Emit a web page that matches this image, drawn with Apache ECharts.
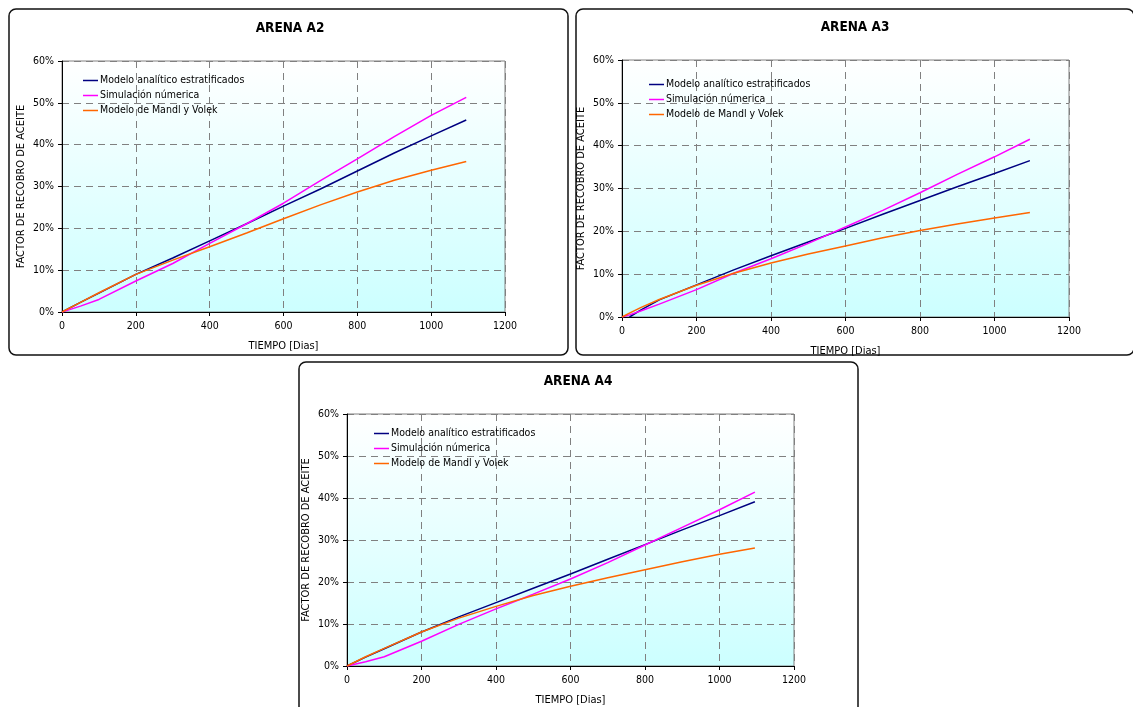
<!DOCTYPE html>
<html>
<head>
<meta charset="utf-8">
<script src="https://cdn.jsdelivr.net/npm/echarts@6/dist/echarts.min.js"></script>
<style>
  html, body { margin: 0; padding: 0; background: #fff; }
  #chart { width: 1133px; height: 707px; }
</style>
</head>
<body>
<div id="chart"></div>
<script>
// Recovery factor (%) versus time (days) for three sands
const dias = [0, 50, 100, 200, 300, 400, 500, 600, 700, 800, 900, 1000, 1095];

const a2Analitico = [0, 2.3, 4.5, 9.0, 12.9, 17.0, 21.1, 25.3, 29.4, 33.7, 38.0, 42.1, 45.9];
const a2Simulacion = [0, 1.4, 3.0, 7.4, 11.6, 16.4, 21.1, 26.0, 31.4, 36.6, 41.9, 47.0, 51.3];
const a2Mandl = [0, 2.3, 4.6, 9.0, 12.4, 15.6, 18.9, 22.3, 25.6, 28.7, 31.5, 33.9, 36.0];

const a3Dias = [0, 20, 50, 100, 200, 300, 400, 500, 600, 700, 800, 900, 1000, 1095];
const a3Analitico = [null, 0, 1.6, 4.0, 7.5, 11.0, 14.3, 17.5, 20.7, 24.0, 27.2, 30.4, 33.5, 36.5];
const a3Simulacion = [0, 0.5, 1.4, 3.0, 6.4, 10.2, 13.6, 17.2, 21.0, 24.9, 29.0, 33.3, 37.4, 41.5];
const a3Mandl = [0, 0.9, 2.2, 4.1, 7.4, 10.2, 12.6, 14.7, 16.6, 18.5, 20.2, 21.7, 23.1, 24.4];

const a4Analitico = [0, 2.1, 4.1, 8.1, 11.7, 15.1, 18.5, 21.9, 25.4, 28.9, 32.4, 35.8, 39.1];
const a4Simulacion = [0, 1.0, 2.2, 5.9, 9.9, 13.6, 17.1, 20.7, 24.6, 28.8, 33.0, 37.2, 41.4];
const a4Mandl = [0, 2.2, 4.2, 8.1, 11.4, 14.2, 16.8, 19.0, 21.0, 22.9, 24.8, 26.6, 28.1];

const titulos = ['ARENA A2', 'ARENA A3', 'ARENA A4'];
const nombres = ['Modelo analítico estratificados', 'Simulación númerica', 'Modelo de Mandl y Volek'];
const colores = ['#000080', '#ff00ff', '#ff6600'];
const yTicks = [0, 10, 20, 30, 40, 50, 60];
const xTicks = [0, 200, 400, 600, 800, 1000, 1200];

const FONT = 'DejaVu Sans Condensed, DejaVu Sans, sans-serif';

const paneles = [
  { box: [9, 9, 559, 346], grid: { left: 62, top: 61, width: 443, height: 251 },
    title: [290, 21], legend: [83, 75],
    x: [dias, dias, dias], y: [a2Analitico, a2Simulacion, a2Mandl] },
  { box: [576, 9, 558, 346], grid: { left: 622, top: 60, width: 447, height: 257 },
    title: [855, 20], legend: [649, 79],
    x: [a3Dias, a3Dias, a3Dias], y: [a3Analitico, a3Simulacion, a3Mandl] },
  { box: [299, 362, 559, 360], grid: { left: 347, top: 414, width: 447, height: 256 },
    title: [578, 374], legend: [374, 428],
    x: [dias, dias, dias], y: [a4Analitico, a4Simulacion, a4Mandl] }
];

const chart = echarts.init(document.getElementById('chart'), null, { renderer: 'canvas' });

const grid = [], xAxis = [], yAxis = [], series = [], title = [], legend = [], graphic = [];

paneles.forEach((p, i) => {
  graphic.push({
    type: 'rect', z: -10, silent: true,
    shape: { x: p.box[0], y: p.box[1], width: p.box[2], height: p.box[3], r: 7 },
    style: { fill: '#fff', stroke: '#111', lineWidth: 1.5 }
  });
  title.push({
    text: titulos[i], left: p.title[0], top: p.title[1], textAlign: 'center', padding: 0,
    textStyle: { fontFamily: FONT, fontSize: 13.5, fontWeight: 'bold', color: '#000' }
  });
  grid.push(Object.assign({
    show: true, borderColor: '#808080', borderWidth: 1,
    backgroundColor: new echarts.graphic.LinearGradient(0, 0, 0, 1, [
      { offset: 0, color: '#ffffff' },
      { offset: 1, color: '#ccffff' }
    ])
  }, p.grid));
  xAxis.push({
    type: 'value', gridIndex: i, min: 0, max: 1200, interval: 200,
    name: 'TIEMPO [Dias]', nameLocation: 'middle', nameGap: 29,
    nameTextStyle: { fontFamily: FONT, fontSize: 11, color: '#000' },
    axisLine: { show: true, onZero: false, lineStyle: { color: '#000', width: 1 } },
    axisTick: { show: true, length: 4, lineStyle: { color: '#000' } },
    axisLabel: { fontFamily: FONT, fontSize: 10.5, color: '#000', margin: 9,
      formatter: v => xTicks.includes(v) ? String(v) : '' },
    splitLine: { show: true, lineStyle: { color: '#808080', type: [7, 5], width: 1 } }
  });
  yAxis.push({
    type: 'value', gridIndex: i, min: 0, max: 60, interval: 10,
    name: 'FACTOR DE RECOBRO DE ACEITE', nameLocation: 'middle', nameGap: 35, nameRotate: 90,
    nameTextStyle: { fontFamily: FONT, fontSize: 11, color: '#000' },
    axisLine: { show: true, onZero: false, lineStyle: { color: '#000', width: 1 } },
    axisTick: { show: true, length: 4, lineStyle: { color: '#000' } },
    axisLabel: { fontFamily: FONT, fontSize: 10.5, color: '#000', margin: 8,
      formatter: v => yTicks.includes(v) ? v + '%' : '' },
    splitLine: { show: true, lineStyle: { color: '#808080', type: [7, 5], width: 1 } }
  });
  legend.push({
    left: p.legend[0], top: p.legend[1], orient: 'vertical', itemGap: 4, padding: 0,
    icon: 'rect', itemWidth: 15, itemHeight: 1.5,
    textStyle: { fontFamily: FONT, fontSize: 10.5, color: '#000', padding: [0, 0, 0, -3] },
    data: nombres.map((n, k) => ({ name: n, itemStyle: { color: colores[k] } })),
    selectedMode: false
  });
  for (let k = 0; k < 3; k++) {
    series.push({
      type: 'line', name: nombres[k], xAxisIndex: i, yAxisIndex: i,
      data: p.x[k].map((d, j) => [d, p.y[k][j]]),
      showSymbol: false, symbol: 'none', connectNulls: false,
      lineStyle: { color: colores[k], width: 1.5 },
      itemStyle: { color: colores[k] },
      animation: false, z: 3 + k
    });
  }
});

chart.setOption({
  animation: false,
  title, grid, xAxis, yAxis, legend, series, graphic
});
</script>
</body>
</html>
